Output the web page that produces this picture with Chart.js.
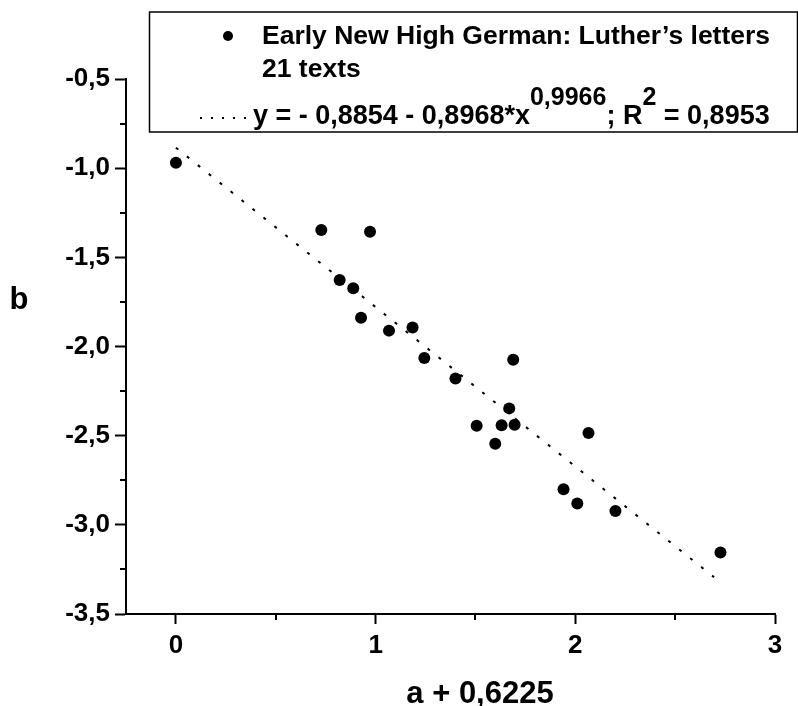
<!DOCTYPE html>
<html>
<head>
<meta charset="utf-8">
<script src="https://cdn.jsdelivr.net/npm/chart.js@4"></script>
<style>
  html, body { margin: 0; padding: 0; background: #fff; }
</style>
</head>
<body>
<canvas id="myChart" width="798" height="706"></canvas>
<script>
// Luther's letters: b against a + 0,6225, one point per text
const xValues = [0.000, 0.728, 0.972, 0.820, 0.888, 0.927, 1.067, 1.185, 1.244, 1.400, 1.689,
                 1.669, 1.506, 1.631, 1.696, 1.599, 2.066, 1.941, 2.010, 2.201, 2.727];
const yValues = [-0.969, -1.347, -1.356, -1.627, -1.674, -1.839, -1.911, -1.893, -2.065, -2.179, -2.074,
                 -2.347, -2.444, -2.442, -2.439, -2.545, -2.485, -2.800, -2.880, -2.923, -3.155];

// ends of the fitted curve
const fitX = [0, 2.695];
const fitY = [-0.885, -3.294];

const xTicks = [0, 1, 2, 3];
const xMinorTicks = [0.5, 1.5, 2.5];
const yTicks = [-3.5, -3.0, -2.5, -2.0, -1.5, -1.0, -0.5];
const yMinorTicks = [-3.25, -2.75, -2.25, -1.75, -1.25, -0.75];

const seriesLabel = 'Early New High German: Luther\u2019s letters';
const countLabel = '21 texts';
const fitLabel = [['y = - 0,8854 - 0,8968*x', false], ['0,9966', true], ['; R', false], ['2', true], [' = 0,8953', false]];
const xTitle = 'a + 0,6225';
const yTitle = 'b';

const family = '"Liberation Sans", Arial, sans-serif';

// short ticks halfway between the labelled ones
const minorTicks = {
    id: 'minorTicks',
    afterDraw(chart) {
        const ctx = chart.ctx, xs = chart.scales.x, ys = chart.scales.y;
        ctx.save();
        ctx.strokeStyle = '#000';
        ctx.lineWidth = 2;
        ctx.beginPath();
        xMinorTicks.forEach(v => {
            const px = Math.round(xs.getPixelForValue(v));
            ctx.moveTo(px, xs.top);
            ctx.lineTo(px, xs.top + 6);
        });
        yMinorTicks.forEach(v => {
            const py = Math.round(ys.getPixelForValue(v));
            ctx.moveTo(ys.right, py);
            ctx.lineTo(ys.right - 6, py);
        });
        ctx.stroke();
        ctx.restore();
    }
};

// axis titles, both upright
const axisTitles = {
    id: 'axisTitles',
    afterDraw(chart) {
        const ctx = chart.ctx;
        ctx.save();
        ctx.fillStyle = '#000';
        ctx.font = 'bold 31px ' + family;
        ctx.textAlign = 'center';
        ctx.textBaseline = 'alphabetic';
        ctx.fillText(xTitle, 480, 703);
        ctx.fillText(yTitle, 19, 309);
        ctx.restore();
    }
};

// framed legend with the fit equation
const boxLegend = {
    id: 'boxLegend',
    afterDraw(chart) {
        const ctx = chart.ctx;
        ctx.save();
        ctx.strokeStyle = '#000';
        ctx.fillStyle = '#000';
        ctx.lineWidth = 1.5;
        ctx.strokeRect(149.5, 12, 648, 120);

        ctx.beginPath();
        ctx.arc(228, 36, 5, 0, Math.PI * 2);
        ctx.fill();

        ctx.font = 'bold 26.5px ' + family;
        ctx.textBaseline = 'alphabetic';
        ctx.fillText(seriesLabel, 262, 44);
        ctx.fillText(countLabel, 262, 77);

        ctx.lineWidth = 2;
        ctx.setLineDash([2, 9]);
        ctx.beginPath();
        ctx.moveTo(200, 118);
        ctx.lineTo(248, 118);
        ctx.stroke();
        ctx.setLineDash([]);

        // equation, exponents raised
        let x = 253;
        fitLabel.forEach(([txt, sup]) => {
            ctx.font = (sup ? 'bold 25px ' : 'bold 27px ') + family;
            ctx.fillText(txt, x, sup ? 105 : 124);
            x += ctx.measureText(txt).width;
        });
        ctx.restore();
    }
};

const ctx = document.getElementById('myChart').getContext('2d');
new Chart(ctx, {
    type: 'scatter',
    data: {
        datasets: [{
            label: seriesLabel,
            data: xValues.map((x, i) => ({ x: x, y: yValues[i] })),
            pointRadius: 6,
            pointHoverRadius: 6,
            pointBackgroundColor: '#000',
            pointBorderWidth: 0,
            order: 0
        }, {
            label: 'fit',
            data: fitX.map((x, i) => ({ x: x, y: fitY[i] })),
            showLine: true,
            pointRadius: 0,
            borderColor: '#000',
            borderWidth: 2,
            borderDash: [3, 11],
            order: 1
        }]
    },
    options: {
        responsive: false,
        animation: false,
        devicePixelRatio: 1,
        layout: { padding: { top: 79, right: 23, left: 0, bottom: 0 } },
        plugins: {
            legend: { display: false },
            tooltip: { enabled: false }
        },
        scales: {
            x: {
                type: 'linear',
                min: -0.25,
                max: 3,
                afterBuildTicks: s => { s.ticks = xTicks.map(v => ({ value: v })); },
                afterFit: s => { s.height = 92; },
                border: { color: '#000', width: 2 },
                grid: { drawOnChartArea: false, tickLength: 10, tickColor: '#000', tickWidth: 2 },
                ticks: {
                    color: '#000',
                    padding: 6,
                    font: { family: family, size: 26, weight: 'bold' },
                    callback: v => String(v)
                }
            },
            y: {
                type: 'linear',
                min: -3.5,
                max: -0.5,
                afterBuildTicks: s => { s.ticks = yTicks.map(v => ({ value: v })); },
                afterFit: s => { s.width = 126; },
                border: { color: '#000', width: 2 },
                grid: { drawOnChartArea: false, tickLength: 11, tickColor: '#000', tickWidth: 2 },
                ticks: {
                    color: '#000',
                    padding: 5,
                    font: { family: family, size: 26, weight: 'bold' },
                    callback: v => v.toFixed(1).replace('.', ',')
                }
            }
        }
    },
    plugins: [minorTicks, axisTitles, boxLegend]
});
</script>
</body>
</html>
